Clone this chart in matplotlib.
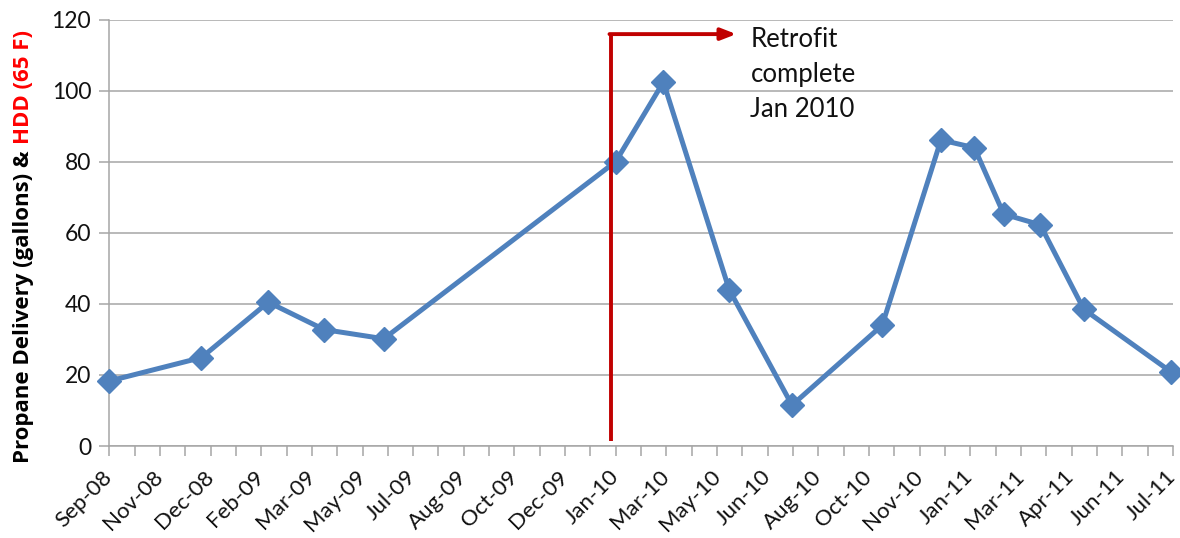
import datetime as dt
import matplotlib
matplotlib.use("Agg")
import matplotlib.pyplot as plt
import matplotlib.dates as mdates
from matplotlib.ticker import FixedLocator

plt.rcParams['font.family'] = ['Lato', 'DejaVu Sans']

# propane deliveries (gallons)
dates = ['2008-09-12', '2008-12-12', '2009-02-16', '2009-04-12', '2009-06-10',
         '2010-01-25', '2010-03-13', '2010-05-17', '2010-07-18', '2010-10-15',
         '2010-12-12', '2011-01-14', '2011-02-12', '2011-03-20', '2011-05-02',
         '2011-07-27']
gallons = [18.3, 24.9, 40.5, 32.8, 30.2, 80.1, 102.5, 44.0, 11.5, 34.0,
           86.2, 84.0, 65.3, 62.3, 38.5, 20.9]

tick_labels = ['Sep-08', 'Nov-08', 'Dec-08', 'Feb-09', 'Mar-09', 'May-09',
               'Jul-09', 'Aug-09', 'Oct-09', 'Dec-09', 'Jan-10', 'Mar-10',
               'May-10', 'Jun-10', 'Aug-10', 'Oct-10', 'Nov-10', 'Jan-11',
               'Mar-11', 'Apr-11', 'Jun-11', 'Jul-11']
axis_start = '2008-09-12'
tick_step_days = 50

retrofit_date = '2010-01-20'
arrow_end_date = '2010-05-24'
note_date = '2010-06-07'
note_text = 'Retrofit\ncomplete\nJan 2010'

blue = '#4F81BD'
red = '#C00000'
grey = '#A6A6A6'

x = [mdates.date2num(dt.date.fromisoformat(d)) for d in dates]
x0 = mdates.date2num(dt.date.fromisoformat(axis_start))
major = [x0 + tick_step_days * i for i in range(len(tick_labels))]
minor = [m + tick_step_days / 2 for m in major[:-1]]

fig = plt.figure(figsize=(11.8, 5.38), dpi=100)
ax = fig.add_axes([0.0926, 0.171, 0.9014, 0.792])

ax.plot(x, gallons, color=blue, lw=3.6, marker='D', ms=12,
        mfc=blue, mec=blue, clip_on=False, zorder=3)

xr = mdates.date2num(dt.date.fromisoformat(retrofit_date))
xa = mdates.date2num(dt.date.fromisoformat(arrow_end_date))
xn = mdates.date2num(dt.date.fromisoformat(note_date))
ax.plot([xr, xr], [1.5, 116], color=red, lw=2.8, solid_capstyle='butt', zorder=4)
ax.annotate('', xy=(xa, 116), xytext=(xr - 1.2, 116),
            arrowprops=dict(arrowstyle='-|>,head_length=0.9,head_width=0.35',
                            color=red, lw=2.8, shrinkA=0, shrinkB=0), zorder=4)
ax.text(xn, 118, note_text, fontsize=18.5, va='top', ha='left',
        linespacing=1.5, color='#111111')

ax.set_xlim(major[0], major[-1])
ax.set_ylim(0, 120)
ax.set_yticks(range(0, 121, 20))
ax.xaxis.set_major_locator(FixedLocator(major))
ax.xaxis.set_minor_locator(FixedLocator(minor))
ax.set_xticklabels(tick_labels, rotation=45, ha='right', va='center',
                   rotation_mode='anchor')

ax.grid(axis='y', color=grey, lw=1.1)
ax.set_axisbelow(True)
for s in ['top', 'right']:
    ax.spines[s].set_visible(False)
for s in ['left', 'bottom']:
    ax.spines[s].set_color(grey)
    ax.spines[s].set_linewidth(1.1)
ax.tick_params(axis='both', which='both', color=grey, width=1.1, length=7,
               labelcolor='#111111')
ax.tick_params(axis='y', labelsize=16.5, pad=6)
ax.tick_params(axis='x', labelsize=16, pad=13)

# two-colour y label
lab_font = ['Open Sans', 'DejaVu Sans']
t1 = fig.text(0.0195, 0.14, 'Propane Delivery (gallons) & ', rotation=90,
              ha='center', va='bottom', fontsize=16, fontweight='bold',
              family=lab_font)
fig.canvas.draw()
bb = t1.get_window_extent()
fig.text(0.0195, bb.y1 / fig.bbox.height, 'HDD (65 F)', rotation=90,
         ha='center', va='bottom', fontsize=16, fontweight='bold',
         family=lab_font, color='#FF0000')

fig.savefig('out.png', dpi=100)
